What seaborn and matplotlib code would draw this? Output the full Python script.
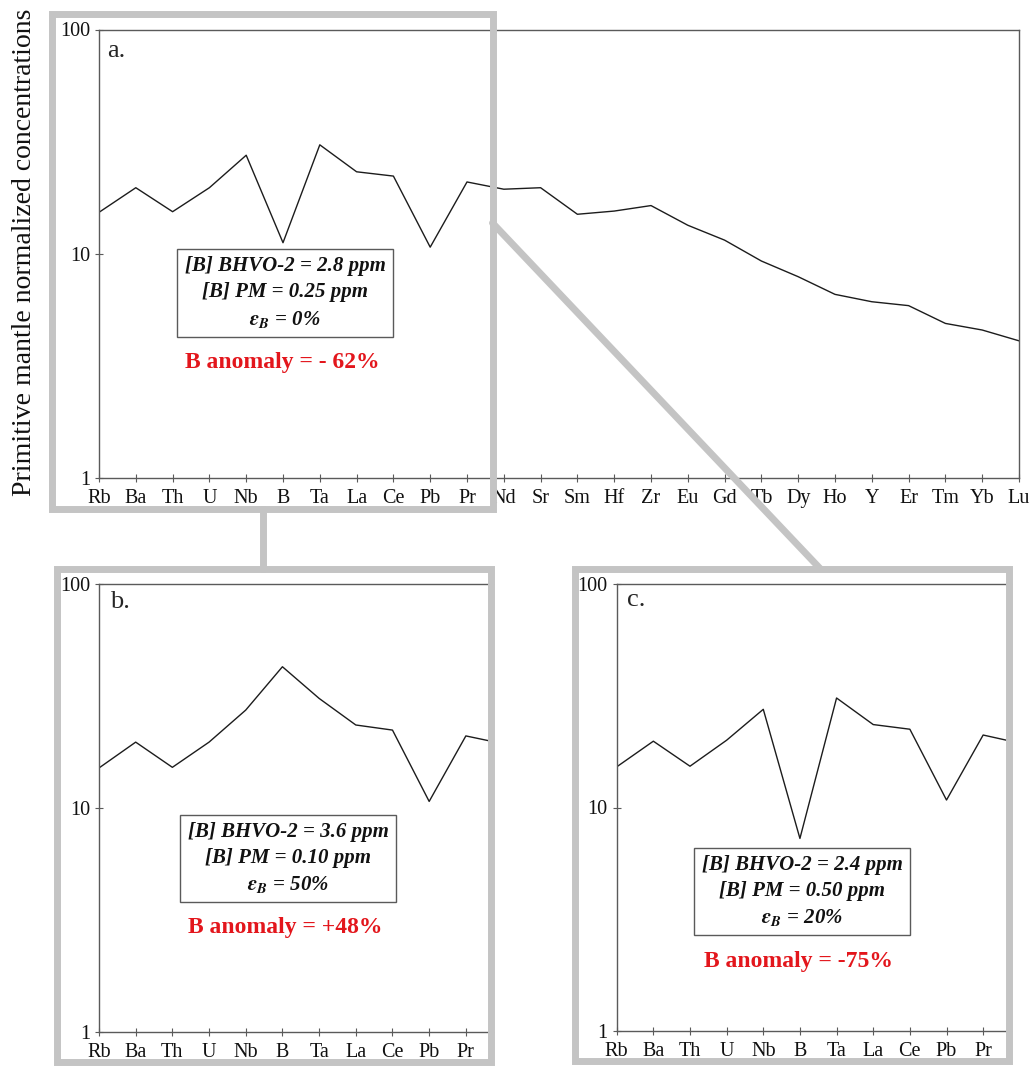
import numpy as np
import pandas as pd
import matplotlib.pyplot as plt
import seaborn as sns
from matplotlib.patches import Rectangle
from matplotlib.lines import Line2D
from matplotlib.ticker import NullLocator

sns.set_theme(style="ticks")
plt.rcParams['font.family'] = ['Liberation Serif', 'DejaVu Serif']
plt.rcParams['mathtext.fontset'] = 'custom'
plt.rcParams['mathtext.it'] = 'STIXGeneral:italic:bold'
plt.rcParams['mathtext.rm'] = 'STIXGeneral:bold'

# Elements (x axis order) and primitive-mantle normalized values
elements = ["Rb", "Ba", "Th", "U", "Nb", "B", "Ta", "La", "Ce", "Pb", "Pr", "Nd", "Sr",
            "Sm", "Hf", "Zr", "Eu", "Gd", "Tb", "Dy", "Ho", "Y", "Er", "Tm", "Yb", "Lu"]
conc_a = [15.3, 19.7, 15.4, 19.7, 27.5, 11.2, 30.6, 23.2, 22.2, 10.7, 20.9, 19.4, 19.7,
          15.0, 15.5, 16.4, 13.4, 11.5, 9.28, 7.90, 6.59, 6.11, 5.87, 4.89, 4.57, 4.09]
# zoomed panels only show Rb..Pr (line runs on to Nd)
conc_b = [15.1, 19.7, 15.2, 19.7, 27.4, 42.8, 30.9, 23.5, 22.3, 10.7, 21.0, 19.4]
conc_c = [15.2, 19.8, 15.3, 20.0, 27.5, 7.27, 30.9, 23.5, 22.4, 10.8, 21.1, 19.4]

box_text = {
    "a": "[B] BHVO-2 = 2.8 ppm\n[B] PM = 0.25 ppm\n$\\epsilon_B$ = 0%",
    "b": "[B] BHVO-2 = 3.6 ppm\n[B] PM = 0.10 ppm\n$\\epsilon_B$ = 50%",
    "c": "[B] BHVO-2 = 2.4 ppm\n[B] PM = 0.50 ppm\n$\\epsilon_B$ = 20%",
}
anomaly_text = {"a": "B anomaly = - 62%", "b": "B anomaly = +48%", "c": "B anomaly = -75%"}

W, H = 1032, 1066
fig = plt.figure(figsize=(W / 100, H / 100), dpi=100)
fig.patch.set_facecolor("white")

def fx(px):
    return px / W

def fy(py):
    return 1 - py / H

def rect(l, t, r, b):
    return [l / W, 1 - b / H, (r - l) / W, (b - t) / H]

spine_col = "#5a5a5a"
frame_col = "#c4c4c4"
red = "#e3161c"

def panel(box, values, n_ticks, xmax, right_spine):
    ax = fig.add_axes(rect(*box))
    df = pd.DataFrame({"pos": np.arange(len(values)), "conc": values})
    sns.lineplot(data=df, x="pos", y="conc", ax=ax, color="#1c1c1c", linewidth=1.0)
    ax.set_yscale("log")
    ax.set_ylim(1, 100)
    ax.set_xlim(0, xmax)
    ax.set_xticks(range(n_ticks))
    ax.set_xticklabels(elements[:n_ticks])
    ax.set_yticks([1, 10, 100])
    ax.set_yticklabels(["1", "10", "100"])
    ax.yaxis.set_minor_locator(NullLocator())
    ax.set_xlabel("")
    ax.set_ylabel("")
    ax.tick_params(direction="inout", length=6, width=0.8, color=spine_col,
                   labelsize=14.5, labelcolor="#111111")
    ax.tick_params(axis="x", pad=5)
    ax.tick_params(axis="y", pad=3.5)
    for s in ax.spines.values():
        s.set_color(spine_col)
        s.set_linewidth(1.0)
    ax.spines["right"].set_visible(right_spine)
    ax.set_facecolor("white")
    return ax

ax_a = panel((99, 29.5, 1019, 478), conc_a, len(elements), len(elements) - 1, True)
ax_b = panel((99, 584.3, 493, 1031.7), conc_b, 11, 10.74, False)
ax_c = panel((616.7, 584, 1011, 1031), conc_c, 11, 10.76, False)

# panel letters
fig.text(fx(107), fy(57), "a.", fontsize=19, ha="left", va="baseline")
fig.text(fx(110), fy(608), "b.", fontsize=19, ha="left", va="baseline")
fig.text(fx(627), fy(606), "c.", fontsize=19, ha="left", va="baseline")

# info boxes and anomaly labels
box_pos = {"a": (285, 293), "b": (288, 858.5), "c": (802, 891.5)}
red_pos = {"a": (282, 368), "b": (285, 933), "c": (799, 967)}
for k in ["a", "b", "c"]:
    x, y = box_pos[k]
    fig.text(fx(x), fy(y), box_text[k], fontsize=15, fontweight="bold", fontstyle="italic",
             ha="center", va="center", multialignment="center", linespacing=1.4,
             color="#111111",
             bbox=dict(boxstyle="square,pad=0.35", fc="white", ec=spine_col, lw=1.0))
    x, y = red_pos[k]
    fig.text(fx(x), fy(y), anomaly_text[k], fontsize=17, fontweight="bold",
             color=red, ha="center", va="baseline")

# y axis title
fig.text(fx(25), fy(252), "Primitive mantle normalized concentrations", fontsize=20,
         rotation=90, ha="center", va="center", color="#111111")

# grey zoom frames and connectors
lw_frame = 5.0
for (l, t, r, b) in [(51.5, 14, 492.5, 508.5), (56.5, 568.5, 491, 1061.5),
                     (575, 568.5, 1008.5, 1061)]:
    fig.add_artist(Rectangle((fx(l), fy(b)), (r - l) / W, (b - t) / H, fill=False,
                             ec=frame_col, lw=lw_frame, transform=fig.transFigure,
                             zorder=5))
fig.add_artist(Line2D([fx(263), fx(263)], [fy(508.5), fy(568.5)], color=frame_col,
                      lw=lw_frame, transform=fig.transFigure, zorder=5))
fig.add_artist(Line2D([fx(492.5), fx(820)], [fy(223), fy(568.5)], color=frame_col,
                      lw=lw_frame, transform=fig.transFigure, zorder=5))

fig.savefig("out.png", dpi=100, facecolor="white")
